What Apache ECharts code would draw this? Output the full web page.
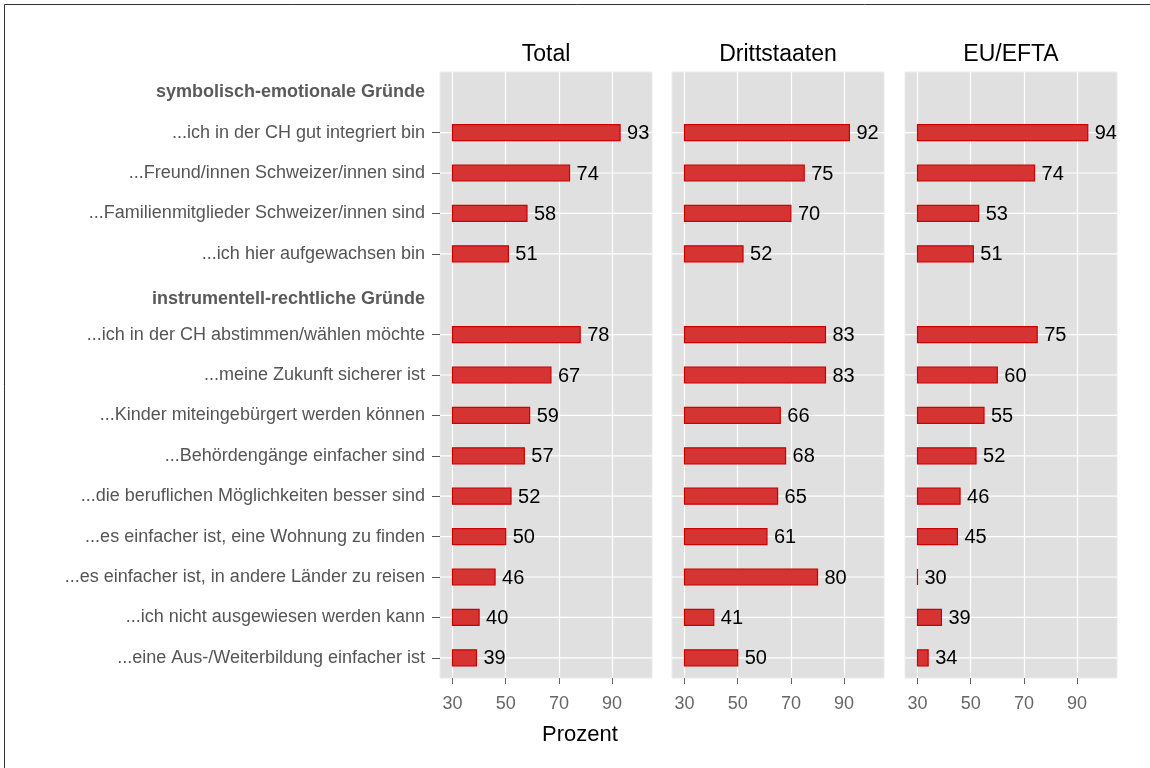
<!DOCTYPE html>
<html>
<head>
<meta charset="utf-8">
<script src="https://cdn.jsdelivr.net/npm/echarts@6/dist/echarts.min.js"></script>
<style>
html,body{margin:0;padding:0;background:#fff;}
#chart{width:1150px;height:768px;}
</style>
</head>
<body>
<div id="chart"></div>
<script>
const categories = [
  'symbolisch-emotionale Gründe',
  '...ich in der CH gut integriert bin',
  '...Freund/innen Schweizer/innen sind',
  '...Familienmitglieder Schweizer/innen sind',
  '...ich hier aufgewachsen bin',
  'instrumentell-rechtliche Gründe',
  '...ich in der CH abstimmen/wählen möchte',
  '...meine Zukunft sicherer ist',
  '...Kinder miteingebürgert werden können',
  '...Behördengänge einfacher sind',
  '...die beruflichen Möglichkeiten besser sind',
  '...es einfacher ist, eine Wohnung zu finden',
  '...es einfacher ist, in andere Länder zu reisen',
  '...ich nicht ausgewiesen werden kann',
  '...eine Aus-/Weiterbildung einfacher ist'
];
const panelTitles = ['Total', 'Drittstaaten', 'EU/EFTA'];
const totalValues        = [null, 93, 74, 58, 51, null, 78, 67, 59, 57, 52, 50, 46, 40, 39];
const drittstaatenValues = [null, 92, 75, 70, 52, null, 83, 83, 66, 68, 65, 61, 80, 41, 50];
const euEftaValues       = [null, 94, 74, 53, 51, null, 75, 60, 55, 52, 46, 45, 30, 39, 34];
const xTicks = [30, 50, 70, 90];
const barBase = 30;
const xTitle = 'Prozent';

const panelValues = [totalValues, drittstaatenValues, euEftaValues];
const gridLefts = [440, 672, 905];
const gridWidth = 212;
const gridTop = 72;
const gridHeight = 606;
const FONT = 'Liberation Sans, Arial';

const isHeader = i => totalValues[i] === null;

const chart = echarts.init(document.getElementById('chart'), null, {renderer: 'canvas'});

const grids = [], xAxes = [], yAxes = [], series = [];
panelValues.forEach((vals, p) => {
  grids.push({
    left: gridLefts[p], top: gridTop, width: gridWidth, height: gridHeight,
    show: true, backgroundColor: '#e0e0e0', borderColor: '#ebebeb', borderWidth: 1,
    containLabel: false
  });
  xAxes.push({
    type: 'value', gridIndex: p, min: 25.3, max: 105,
    axisLine: {show: false},
    axisTick: {show: true, customValues: xTicks, length: 6, lineStyle: {color: '#666', width: 1}},
    axisLabel: {show: true, customValues: xTicks, color: '#666', fontSize: 18, fontFamily: FONT, margin: 17},
    splitLine: {show: true, lineStyle: {color: '#ffffff', width: 1.2}}
  });
  yAxes.push({
    type: 'category', gridIndex: p, data: categories, inverse: true,
    axisLine: {show: false},
    axisTick: {show: p === 0, alignWithLabel: true, length: 8, interval: (i) => !isHeader(i), lineStyle: {color: '#555'}},
    axisLabel: {
      show: p === 0, margin: 15, interval: 0, color: '#555', fontSize: 18,
      fontFamily: FONT,
      formatter: (v, i) => {
        if (i === 0) return '{h|' + v + '}';
        if (i === 5) return '{h2|' + v + '}';
        return v;
      },
      rich: {
        h: {fontWeight: 'bold', color: '#5a5a5a', fontSize: 18, fontFamily: FONT},
        h2: {fontWeight: 'bold', color: '#5a5a5a', fontSize: 18, fontFamily: FONT, padding: [9, 0, 0, 0]}
      }
    },
    splitLine: {show: false}
  });
  const data = [];
  vals.forEach((v, i) => { if (v !== null) data.push([v, i]); });
  series.push({
    type: 'custom', xAxisIndex: p, yAxisIndex: p, data: data,
    encode: {x: 0, y: 1},
    clip: true,
    renderItem: (params, api) => {
      const v = api.value(0), c = api.value(1);
      const s = api.coord([barBase, c]);
      const e = api.coord([v, c]);
      const cs = params.coordSys;
      const h = 16;
      return {
        type: 'group',
        children: [
          {type: 'line', shape: {x1: cs.x, y1: s[1], x2: cs.x + cs.width, y2: s[1]}, style: {stroke: '#ffffff', lineWidth: 1.2}},
          {type: 'rect', shape: {x: s[0], y: s[1] - h / 2, width: e[0] - s[0], height: h}, style: {fill: '#d63333', stroke: '#cc0000', lineWidth: 1.2}},
          {type: 'text', x: e[0] + 7, y: s[1] + 1, style: {text: String(v), fill: '#000', fontSize: 20, fontFamily: FONT, align: 'left', verticalAlign: 'middle'}}
        ]
      };
    }
  });
});

const graphics = [
  {type: 'rect', shape: {x: 4.5, y: 4.5, width: 1300, height: 900}, style: {fill: 'none', stroke: '#333', lineWidth: 1}, silent: true, z: 100}
];
panelTitles.forEach((t, p) => {
  graphics.push({type: 'text', x: gridLefts[p] + gridWidth / 2, y: 55,
    style: {text: t, fill: '#000', fontSize: 23, fontFamily: FONT, align: 'center', verticalAlign: 'middle'}});
});
graphics.push({type: 'text', x: 580, y: 735,
  style: {text: xTitle, fill: '#000', fontSize: 22, fontFamily: FONT, align: 'center', verticalAlign: 'middle'}});

chart.setOption({
  animation: false,
  backgroundColor: '#ffffff',
  grid: grids, xAxis: xAxes, yAxis: yAxes, series: series,
  graphic: graphics
});
</script>
</body>
</html>
